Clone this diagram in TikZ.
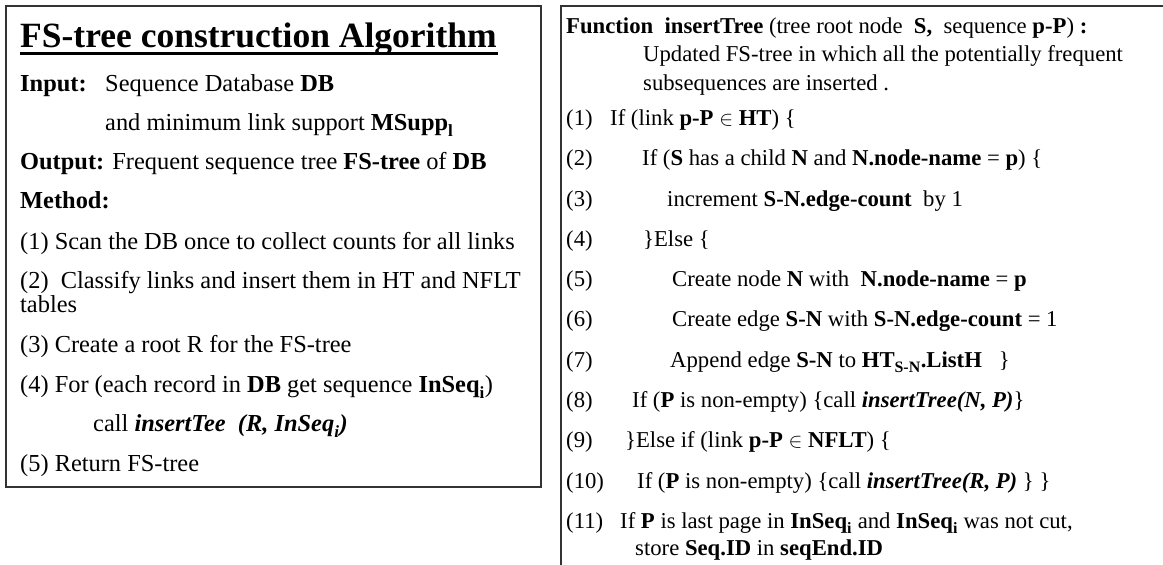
\documentclass[tikz,border=0pt]{standalone}
\usepackage{fontspec}
\setmainfont{Liberation Serif}
\newcommand\leftsize{\fontsize{24.4}{28}\selectfont}
\newcommand\titlesize{\fontsize{35.5}{40}\selectfont}
\newcommand\rightsize{\fontsize{22.7}{26}\selectfont}
% subscript set a little lower than the default
\newcommand\lsub[1]{\textsubscript{\raisebox{-0.15em}{#1}}}
\tikzset{
  panel/.style={draw=black!80, line width=1.6pt},
  ltxt/.style={anchor=base west, inner sep=0pt, font=\leftsize},
  rtxt/.style={anchor=base west, inner sep=0pt, font=\rightsize},
  ttl/.style={anchor=base west, inner sep=0pt, font=\titlesize\bfseries},
}
\begin{document}
\begin{tikzpicture}[x=1pt, y=-1pt]
\useasboundingbox (0,0) rectangle (1163,565);
\clip (0,0) rectangle (1163,565);

% ---------------- left panel: main algorithm ----------------
\draw[panel] (6,6) rectangle (541,487);
\node[ttl] (title) at (20,47) {FS-tree construction Algorithm};
\draw[line width=3pt] (title.base west) ++(0,6) -- ++(478,0);

\node[ltxt] (inlab) at (20,91) {\textbf{Input:}};
\node[ltxt] (in1) at (105,91) {Sequence Database \textbf{DB}};
\node[ltxt] (in2) at (105,130) {and minimum link support \textbf{MSupp\lsub{l}}};
\node[ltxt] (out) at (20,169) {\textbf{Output:} Frequent sequence tree \textbf{FS-tree} of \textbf{DB}};
\node[ltxt] (meth) at (20,208) {\textbf{Method:}};
\node[ltxt] (m1) at (20,249) {(1) Scan the DB once to collect counts for all links};
\node[ltxt] (m2) at (20,288) {(2)\ \ Classify links and insert them in HT and NFLT};
\node[ltxt] (m2b) at (20,312) {tables};
\node[ltxt] (m3) at (20,352) {(3) Create a root R for the FS-tree};
\node[ltxt] (m4) at (20,392) {(4) For (each record in \textbf{DB} get sequence \textbf{InSeq\lsub{i}})};
\node[ltxt] (m4b) at (93,431) {call \textbf{\textit{insertTee\ \ (R, InSeq\lsub{i})}}};
\node[ltxt] (m5) at (20,471) {(5) Return FS-tree};

% ---------------- right panel: insertTree function ----------------
\draw[panel] (561,6) rectangle (1180,590);
\node[rtxt] (fn) at (566,33) {\textbf{Function\ \ insertTree} (tree root node\ \ \textbf{S,}\ \ sequence \textbf{p-P})\textbf{\ :}};
\node[rtxt] (fn2) at (643,61) {Updated FS-tree in which all the potentially frequent};
\node[rtxt] (fn3) at (643,90) {subsequences are inserted .};

\node[rtxt] (n1) at (566,125) {(1)};
\node[rtxt] (s1) at (610,125) {If (link \textbf{p-P} $\in$ \textbf{HT}) \{};
\node[rtxt] (n2) at (566,165) {(2)};
\node[rtxt] (s2) at (642,165) {If (\textbf{S} has a child \textbf{N} and \textbf{N.node-name} = \textbf{p}) \{};
\node[rtxt] (n3) at (566,206) {(3)};
\node[rtxt] (s3) at (667,206) {increment \textbf{S-N.edge-count}\ \ by 1};
\node[rtxt] (n4) at (566,246) {(4)};
\node[rtxt] (s4) at (643,246) {\}Else \{};
\node[rtxt] (n5) at (566,286) {(5)};
\node[rtxt] (s5) at (672,286) {Create node \textbf{N} with\ \ \textbf{N.node-name} = \textbf{p}};
\node[rtxt] (n6) at (566,326) {(6)};
\node[rtxt] (s6) at (672,326) {Create edge \textbf{S-N} with \textbf{S-N.edge-count} = 1};
\node[rtxt] (n7) at (566,367) {(7)};
\node[rtxt] (s7) at (670,367) {Append edge \textbf{S-N} to \textbf{HT\lsub{S-N}.ListH}\ \ \ \}};
\node[rtxt] (n8) at (566,407) {(8)};
\node[rtxt] (s8) at (632,407) {If (\textbf{P} is non-empty) \{call \textbf{\textit{insertTree(N, P)}}\}};
\node[rtxt] (n9) at (566,447) {(9)};
\node[rtxt] (s9) at (625,447) {\}Else if (link \textbf{p-P} $\in$ \textbf{NFLT}) \{};
\node[rtxt] (n10) at (566,488) {(10)};
\node[rtxt] (s10) at (637,488) {If (\textbf{P} is non-empty) \{call \textbf{\textit{insertTree(R, P)}} \} \}};
\node[rtxt] (n11) at (566,528) {(11)};
\node[rtxt] (s11) at (620,528) {If \textbf{P} is last page in \textbf{InSeq\lsub{i}} and \textbf{InSeq\lsub{i}} was not cut,};
\node[rtxt] (s11b) at (635,555) {store \textbf{Seq.ID} in \textbf{seqEnd.ID}};
\end{tikzpicture}
\end{document}
